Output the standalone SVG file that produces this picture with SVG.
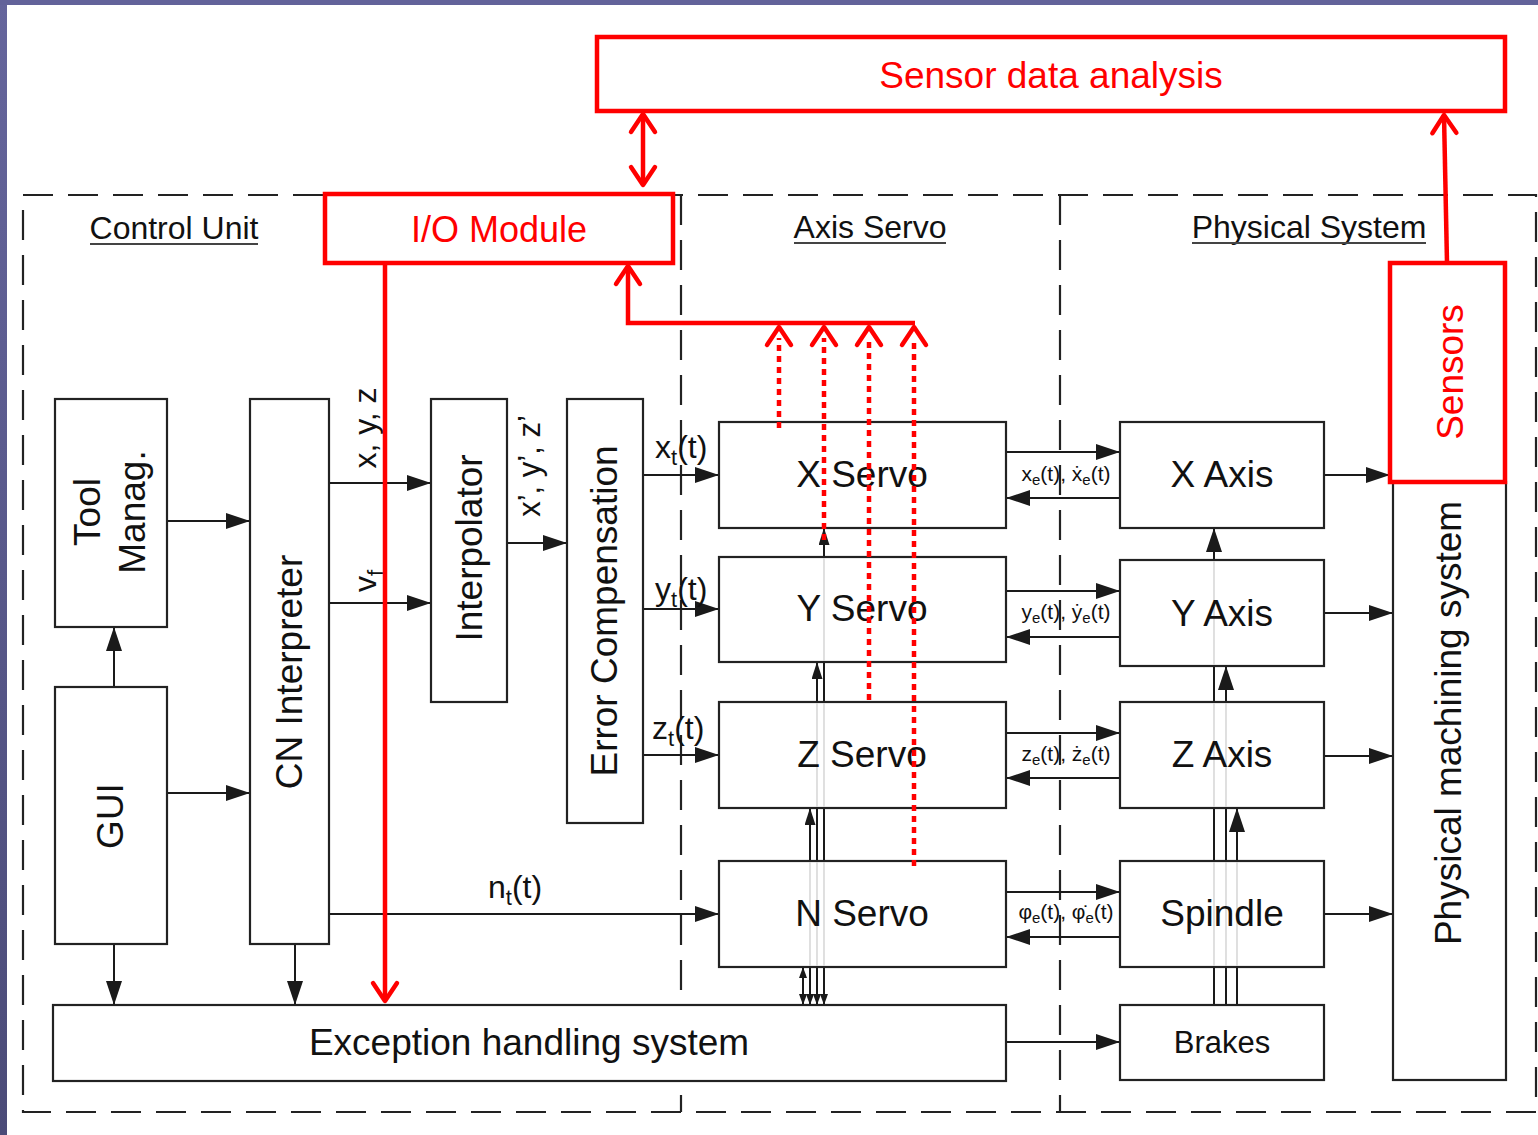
<svg xmlns="http://www.w3.org/2000/svg" width="1538" height="1135" viewBox="0 0 1538 1135">
<defs>
<linearGradient id="bg" x1="0" y1="0" x2="0" y2="1"><stop offset="0" stop-color="#65659c"/><stop offset="1" stop-color="#4b4b78"/></linearGradient>
<marker id="ab" markerUnits="userSpaceOnUse" markerWidth="24" markerHeight="16" viewBox="0 0 24 16" refX="24" refY="8" orient="auto"><path d="M0,0 L24,8 L0,16 z" fill="#1a1a1a"/></marker>
<marker id="as" markerUnits="userSpaceOnUse" markerWidth="17" markerHeight="11" viewBox="0 0 17 11" refX="17" refY="5.5" orient="auto"><path d="M0,0 L17,5.5 L0,11 z" fill="#1a1a1a"/></marker>
<marker id="ax" markerUnits="userSpaceOnUse" markerWidth="11" markerHeight="8" viewBox="0 0 11 8" refX="11" refY="4" orient="auto-start-reverse"><path d="M0,0 L11,4 L0,8 z" fill="#1a1a1a"/></marker>
<marker id="ar" markerUnits="userSpaceOnUse" markerWidth="28" markerHeight="32" viewBox="-4 -4 28 32" refX="18" refY="12" orient="auto-start-reverse"><path d="M0,0 L18,12 L0,24" fill="none" stroke="#ff0000" stroke-width="4.5" stroke-linecap="round" stroke-linejoin="round"/></marker>
<marker id="ard" markerUnits="userSpaceOnUse" markerWidth="28" markerHeight="32" viewBox="-4 -4 28 32" refX="7" refY="12" orient="auto"><path d="M0,0 L18,12 L0,24" fill="none" stroke="#ff0000" stroke-width="4.5" stroke-linecap="round" stroke-linejoin="round"/></marker>
<style>
.t{font-family:"Liberation Sans","DejaVu Sans",Arial,sans-serif;fill:#111}
.r{fill:#ff0000}
.f37{font-size:37px}
.f36{font-size:36px}
.f32{font-size:32px}
.f31{font-size:31px}
.sm{font-size:21px}
.sb{font-size:15px}
.sb2{font-size:22px}
.m{text-anchor:middle}
.box{fill:#fff;stroke:#222;stroke-width:2.2}
.rbox{fill:#fff;stroke:#ff0000;stroke-width:4.5}
.ln{fill:none;stroke:#1a1a1a;stroke-width:2}
.faint{fill:none;stroke:#d8d8d8;stroke-width:1.6}
.dash{fill:none;stroke:#222;stroke-width:2.2;stroke-dasharray:30 15}
.rl{fill:none;stroke:#ff0000;stroke-width:4.5}
.rd{fill:none;stroke:#ff0000;stroke-width:4.5;stroke-dasharray:6 5}
.ul{stroke:#444;stroke-width:2}
</style>
</defs>
<rect width="1538" height="1135" fill="#fff"/>
<rect x="0" y="0" width="7" height="1135" fill="url(#bg)"/>
<rect x="0" y="0" width="1538" height="5" fill="#63639a"/>

<g id="frame">
<rect class="dash" x="23" y="195" width="1513" height="917"/>
<line class="dash" x1="681" y1="195" x2="681" y2="1112"/>
<line class="dash" x1="1060" y1="195" x2="1060" y2="1112"/>
<text class="t f32 m" x="174" y="239">Control Unit</text>
<line class="ul" x1="90" y1="244" x2="258" y2="244"/>
<text class="t f32 m" x="870" y="238">Axis Servo</text>
<line class="ul" x1="794" y1="243" x2="946" y2="243"/>
<text class="t f32 m" x="1309" y="238">Physical System</text>
<line class="ul" x1="1192" y1="243" x2="1426" y2="243"/>
</g>

<g id="connectors">
<path class="ln" d="M167,521 H250" marker-end="url(#ab)"/>
<path class="ln" d="M167,793 H250" marker-end="url(#ab)"/>
<path class="ln" d="M114,687 V627" marker-end="url(#ab)"/>
<path class="ln" d="M114,944 V1005" marker-end="url(#ab)"/>
<path class="ln" d="M295,944 V1005" marker-end="url(#ab)"/>
<path class="ln" d="M330,483 H431" marker-end="url(#ab)"/>
<path class="ln" d="M330,603 H431" marker-end="url(#ab)"/>
<path class="ln" d="M507,543 H567" marker-end="url(#ab)"/>
<path class="ln" d="M643,475 H719" marker-end="url(#ab)"/>
<path class="ln" d="M643,609 H719" marker-end="url(#ab)"/>
<path class="ln" d="M643,755 H719" marker-end="url(#ab)"/>
<path class="ln" d="M330,914 H719" marker-end="url(#ab)"/>
<path class="ln" d="M1006,452 H1120" marker-end="url(#ab)"/>
<path class="ln" d="M1120,498 H1006" marker-end="url(#ab)"/>
<path class="ln" d="M1006,591 H1120" marker-end="url(#ab)"/>
<path class="ln" d="M1120,637 H1006" marker-end="url(#ab)"/>
<path class="ln" d="M1006,733 H1120" marker-end="url(#ab)"/>
<path class="ln" d="M1120,778 H1006" marker-end="url(#ab)"/>
<path class="ln" d="M1006,892 H1120" marker-end="url(#ab)"/>
<path class="ln" d="M1120,937 H1006" marker-end="url(#ab)"/>
<path class="ln" d="M1006,1042 H1120" marker-end="url(#ab)"/>
<path class="ln" d="M1324,475 H1390" marker-end="url(#ab)"/>
<path class="ln" d="M1324,613 H1393" marker-end="url(#ab)"/>
<path class="ln" d="M1324,756 H1393" marker-end="url(#ab)"/>
<path class="ln" d="M1324,914 H1393" marker-end="url(#ab)"/>
<path class="ln" d="M824,557 V528" marker-end="url(#as)"/>
<path class="ln" d="M817,702 V662" marker-end="url(#as)"/>
<path class="ln" d="M824,702 V662"/>
<path class="ln" d="M810,861 V808" marker-end="url(#as)"/>
<path class="ln" d="M817,861 V808"/>
<path class="ln" d="M824,861 V808"/>
<path class="ln" d="M803,1005 V967" marker-start="url(#ax)" marker-end="url(#ax)"/>
<path class="ln" d="M810,967 V1005" marker-end="url(#ax)"/>
<path class="ln" d="M817,967 V1005" marker-end="url(#ax)"/>
<path class="ln" d="M824,967 V1005" marker-end="url(#ax)"/>
<path class="ln" d="M1214,560 V528" marker-end="url(#ab)"/>
<path class="ln" d="M1214,666 V702 M1214,808 V861 M1214,967 V1005"/>
<path class="ln" d="M1226,702 V666" marker-end="url(#ab)"/>
<path class="ln" d="M1226,808 V861 M1226,967 V1005"/>
<path class="ln" d="M1237,861 V808" marker-end="url(#ab)"/>
<path class="ln" d="M1237,967 V1005"/>
</g>

<g id="labels">
<text class="t f32 m" transform="translate(376,428) rotate(-90)">x, y, z</text>
<text class="t f32 m" transform="translate(376,581) rotate(-90)">v<tspan class="sb2" dy="7">f</tspan></text>
<text class="t f31 m" transform="translate(540,466) rotate(-90)">x’, y’, z’</text>
<text class="t f32" x="655" y="458">x<tspan class="sb2" dy="7">t</tspan><tspan dy="-7">(t)</tspan></text>
<text class="t f32" x="655" y="600">y<tspan class="sb2" dy="7">t</tspan><tspan dy="-7">(t)</tspan></text>
<text class="t f32" x="652" y="739">z<tspan class="sb2" dy="7">t</tspan><tspan dy="-7">(t)</tspan></text>
<text class="t f32" x="488" y="898">n<tspan class="sb2" dy="7">t</tspan><tspan dy="-7">(t)</tspan></text>
<text class="t sm m" x="1066" y="481">x<tspan class="sb" dy="4">e</tspan><tspan dy="-4">(t), ẋ</tspan><tspan class="sb" dy="4">e</tspan><tspan dy="-4">(t)</tspan></text>
<text class="t sm m" x="1066" y="619">y<tspan class="sb" dy="4">e</tspan><tspan dy="-4">(t), ẏ</tspan><tspan class="sb" dy="4">e</tspan><tspan dy="-4">(t)</tspan></text>
<text class="t sm m" x="1066" y="761">z<tspan class="sb" dy="4">e</tspan><tspan dy="-4">(t), ż</tspan><tspan class="sb" dy="4">e</tspan><tspan dy="-4">(t)</tspan></text>
<text class="t sm m" x="1066" y="919">φ<tspan class="sb" dy="4">e</tspan><tspan dy="-4">(t), φ̇</tspan><tspan class="sb" dy="4">e</tspan><tspan dy="-4">(t)</tspan></text>
</g>

<g id="tool-manag"><rect class="box" x="55" y="399" width="112" height="228"/>
<text class="t f37 m" transform="translate(100,512) rotate(-90)">Tool</text>
<text class="t f37 m" transform="translate(145,512) rotate(-90)">Manag.</text></g>
<g id="gui"><rect class="box" x="55" y="687" width="112" height="257"/>
<text class="t f37 m" transform="translate(123,816) rotate(-90)">GUI</text></g>
<g id="cn-interpreter"><rect class="box" x="250" y="399" width="79" height="545"/>
<text class="t f37 m" transform="translate(302,672) rotate(-90)">CN Interpreter</text></g>
<g id="interpolator"><rect class="box" x="431" y="399" width="76" height="303"/>
<text class="t f37 m" transform="translate(482,548) rotate(-90)">Interpolator</text></g>
<g id="error-compensation"><rect class="box" x="567" y="399" width="76" height="424"/>
<text class="t f37 m" transform="translate(617,611) rotate(-90)">Error Compensation</text></g>

<g id="x-servo"><rect class="box" x="719" y="422" width="287" height="106"/>
<text class="t f37 m" x="862" y="487">X Servo</text></g>
<g id="y-servo"><rect class="box" x="719" y="557" width="287" height="105"/>
<line class="faint" x1="824" y1="558" x2="824" y2="661"/>
<text class="t f37 m" x="862" y="621">Y Servo</text></g>
<g id="z-servo"><rect class="box" x="719" y="702" width="287" height="106"/>
<line class="faint" x1="817" y1="703" x2="817" y2="807"/><line class="faint" x1="824" y1="703" x2="824" y2="807"/>
<text class="t f37 m" x="862" y="767">Z Servo</text></g>
<g id="n-servo"><rect class="box" x="719" y="861" width="287" height="106"/>
<line class="faint" x1="810" y1="862" x2="810" y2="966"/><line class="faint" x1="817" y1="862" x2="817" y2="966"/><line class="faint" x1="824" y1="862" x2="824" y2="966"/>
<text class="t f37 m" x="862" y="926">N Servo</text></g>

<g id="x-axis"><rect class="box" x="1120" y="422" width="204" height="106"/>
<text class="t f37 m" x="1222" y="487">X Axis</text></g>
<g id="y-axis"><rect class="box" x="1120" y="560" width="204" height="106"/>
<line class="faint" x1="1214" y1="561" x2="1214" y2="665"/>
<text class="t f37 m" x="1222" y="626">Y Axis</text></g>
<g id="z-axis"><rect class="box" x="1120" y="702" width="204" height="106"/>
<line class="faint" x1="1214" y1="703" x2="1214" y2="807"/><line class="faint" x1="1226" y1="703" x2="1226" y2="807"/>
<text class="t f37 m" x="1222" y="767">Z Axis</text></g>
<g id="spindle"><rect class="box" x="1120" y="861" width="204" height="106"/>
<line class="faint" x1="1214" y1="862" x2="1214" y2="966"/><line class="faint" x1="1226" y1="862" x2="1226" y2="966"/><line class="faint" x1="1237" y1="862" x2="1237" y2="966"/>
<text class="t f37 m" x="1222" y="926">Spindle</text></g>
<g id="brakes"><rect class="box" x="1120" y="1005" width="204" height="75"/>
<text class="t f31 m" x="1222" y="1053">Brakes</text></g>

<g id="exception-handling"><rect class="box" x="53" y="1005" width="953" height="76"/>
<text class="t f37 m" x="529" y="1055">Exception handling system</text></g>

<g id="physical-machining"><rect class="box" x="1393" y="482" width="113" height="598"/>
<text class="t f37 m" transform="translate(1461,723) rotate(-90)">Physical machining system</text></g>

<g id="sensors"><rect class="rbox" x="1390" y="263" width="115" height="219"/>
<text class="t r f37 m" transform="translate(1463,372) rotate(-90)">Sensors</text></g>
<g id="sensor-data-analysis"><rect class="rbox" x="597" y="37" width="908" height="74"/>
<text class="t r f37 m" x="1051" y="88">Sensor data analysis</text></g>
<g id="io-module"><rect class="rbox" x="325" y="194" width="348" height="69"/>
<text class="t r f36 m" x="499" y="242">I/O Module</text></g>

<g id="red-connectors">
<path class="rl" d="M643,114 V185" marker-start="url(#ar)" marker-end="url(#ar)"/>
<path class="rl" d="M1447,263 L1444,115" marker-end="url(#ar)"/>
<path class="rl" d="M385,265 V1001" marker-end="url(#ar)"/>
<path class="rl" d="M915,323 H628 V266" marker-end="url(#ar)"/>
<path class="rd" d="M779,428 V338" marker-end="url(#ard)"/>
<path class="rd" d="M824,540 V338" marker-end="url(#ard)"/>
<path class="rd" d="M869,700 V338" marker-end="url(#ard)"/>
<path class="rd" d="M914,866 V338" marker-end="url(#ard)"/>
</g>
</svg>
